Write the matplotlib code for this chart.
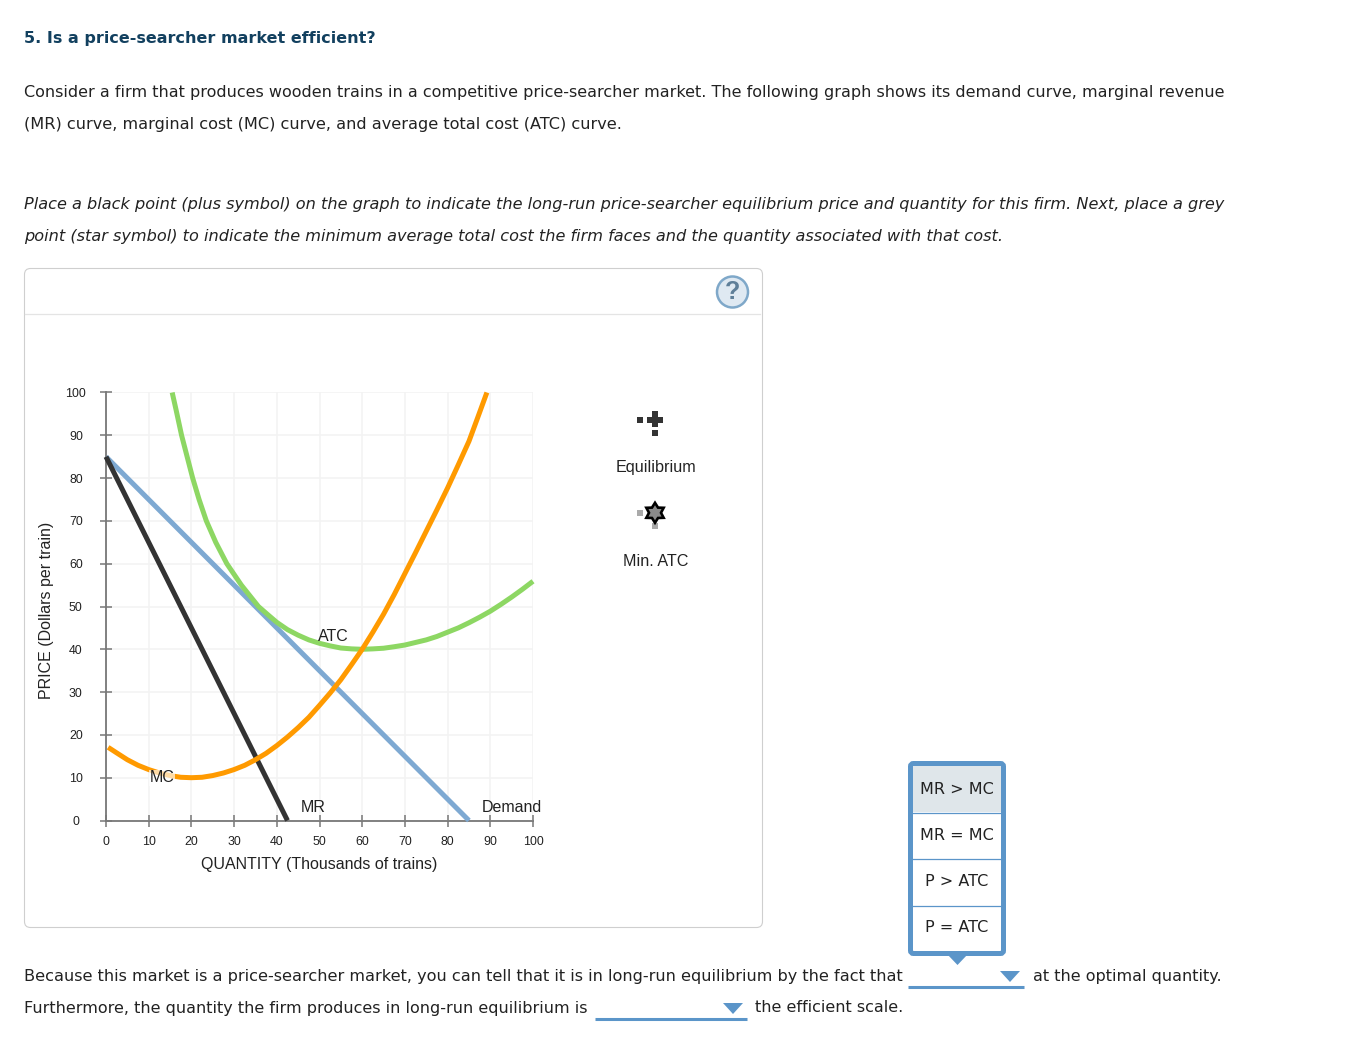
import numpy as np
import matplotlib
matplotlib.use("Agg")
import matplotlib.pyplot as plt
from matplotlib.patches import FancyBboxPatch, Circle, Polygon, Rectangle

W, H = 1370, 1052
QTY_TICKS = [0, 10, 20, 30, 40, 50, 60, 70, 80, 90, 100]
PRICE_TICKS = [0, 10, 20, 30, 40, 50, 60, 70, 80, 90, 100]

demand_q = [0, 85]
demand_p = [85, 0]
mr_q = [0, 42.5]
mr_p = [85, 0]
mc_q = [0.5, 2.5, 5, 7.5, 10, 12.5, 15, 17.5, 20, 22.5, 25, 27.5, 30, 32.5, 35, 37.5, 40, 42.5, 45, 47.5, 50,
        52.5, 55, 57.5, 60, 62.5, 65, 67.5, 70, 72.5, 75, 77.5, 80, 82.5, 85, 87, 89.2]
mc_p = [17.1, 15.8, 14.2, 12.9, 11.9, 11.1, 10.5, 10.1, 10, 10.1, 10.5, 11.1, 11.9, 12.9, 14.2, 15.7, 17.5, 19.5, 21.7, 24.1, 26.9,
        29.8, 32.9, 36.4, 40, 44, 48.2, 52.8, 57.7, 62.6, 67.6, 72.6, 77.7, 83.1, 88.6, 94, 100]
atc_q = [15.5, 16.4, 17.7, 19, 20.3, 21.8, 23.5, 25.7, 28.3, 31.7, 35.7, 38, 40, 42.5, 45, 47.5, 50, 52.5, 55, 57.5, 60,
         62.5, 65, 67.5, 70, 72.5, 75, 77.5, 80, 82.5, 85, 87.5, 90, 92.5, 95, 97.5, 100]
atc_p = [100, 96, 90, 85, 80, 75, 70, 65, 60, 55, 50, 48, 46.3, 44.6, 43.3, 42.2, 41.4, 40.8, 40.3, 40.1, 40,
         40.1, 40.25, 40.6, 41, 41.6, 42.2, 43, 44, 45, 46.2, 47.5, 48.9, 50.5, 52.2, 54, 55.9]

DEMAND_LABEL, MR_LABEL, MC_LABEL, ATC_LABEL = "Demand", "MR", "MC", "ATC"
TITLE = "5. Is a price-searcher market efficient?"
INTRO = ["Consider a firm that produces wooden trains in a competitive price-searcher market. The following graph shows its demand curve, marginal revenue",
         "(MR) curve, marginal cost (MC) curve, and average total cost (ATC) curve."]
TASK = ["Place a black point (plus symbol) on the graph to indicate the long-run price-searcher equilibrium price and quantity for this firm. Next, place a grey",
        "point (star symbol) to indicate the minimum average total cost the firm faces and the quantity associated with that cost."]
OPTIONS = ["MR > MC", "MR = MC", "P > ATC", "P = ATC"]

BODY_FONT = "DejaVu Sans"
CHART_FONT = "Liberation Sans"
INK = "#222222"
BLUE = "#5b95c9"

fig = plt.figure(figsize=(W / 100, H / 100), dpi=100, facecolor="white")

pg = fig.add_axes([0, 0, 1, 1])
pg.set_xlim(0, W)
pg.set_ylim(H, 0)
pg.axis("off")

BS = 11.54
pg.text(24, 38, TITLE, fontsize=11.55, fontweight="bold", color="#12405f", family=BODY_FONT, va="center")
pg.text(24, 92, INTRO[0], fontsize=BS, color=INK, family=BODY_FONT, va="center")
pg.text(24, 124, INTRO[1], fontsize=11.63, color=INK, family=BODY_FONT, va="center")
pg.text(24, 204, TASK[0], fontsize=11.62, color=INK, family=BODY_FONT, style="italic", va="center")
pg.text(24, 236, TASK[1], fontsize=11.59, color=INK, family=BODY_FONT, style="italic", va="center")

pg.add_patch(FancyBboxPatch((24.5, 268.5), 738, 659, boxstyle="round,pad=0,rounding_size=6",
                            fc="white", ec="#cfcfcf", lw=0.8))
pg.plot([25, 760], [313.5, 313.5], color="#e4e4e4", lw=0.9)
pg.add_patch(Circle((732.5, 292), 15.5, fc="#dfe9f2", ec="#7fa8c9", lw=1.8))
pg.text(732.5, 292, "?", fontsize=18, fontweight="bold", color="#5f7f99", family=CHART_FONT,
        ha="center", va="center")

DK = "#333333"
pg.add_patch(Rectangle((637, 417), 6, 5.5, fc=DK, ec="none"))
pg.add_patch(Rectangle((652, 430), 6, 5.5, fc=DK, ec="none"))
pg.add_patch(Polygon([(652, 411), (658, 411), (658, 416.5), (663.5, 416.5), (663.5, 422.5), (658, 422.5), (658, 427),
                      (652, 427), (652, 422.5), (647, 422.5), (647, 416.5), (652, 416.5)], fc=DK, ec="none"))
pg.text(656, 467.5, "Equilibrium", fontsize=11.6, family=CHART_FONT, color="#222222", ha="center", va="center")

GR = "#aaaaaa"
pg.add_patch(Rectangle((637, 510), 6, 5.5, fc=GR, ec="none"))
pg.add_patch(Rectangle((652, 523), 6, 6, fc=GR, ec="none"))
ang = np.deg2rad(np.arange(-90, 270, 30))
rad = np.where(np.arange(12) % 2 == 0, 10.0, 6.0)
pg.add_patch(Polygon(np.c_[655 + rad * np.cos(ang), 512.8 + rad * np.sin(ang)], fc="#8a8a8a", ec="black", lw=1.9))
pg.text(656, 561.5, "Min. ATC", fontsize=11.6, family=CHART_FONT, color="#222222", ha="center", va="center")

pg.add_patch(Polygon([(947, 954), (968, 954), (957.5, 965)], fc=BLUE, ec="none", zorder=3))
pg.add_patch(FancyBboxPatch((910.5, 763.5), 93, 190, boxstyle="round,pad=0,rounding_size=3",
                            fc="white", ec=BLUE, lw=3.6, zorder=3))
pg.add_patch(Rectangle((913, 766), 88, 46, fc="#dfe6ea", ec="none", zorder=4))
for yy in (812.5, 858.5, 905.5):
    pg.plot([913, 1001], [yy, yy], color=BLUE, lw=0.9, zorder=4)
for yy, opt in zip((789, 835, 882, 928), OPTIONS):
    pg.text(957, yy, opt, fontsize=BS, family=BODY_FONT, color=INK, ha="center", va="center", zorder=5)

pg.text(24, 976, "Because this market is a price-searcher market, you can tell that it is in long-run equilibrium by the fact that",
        fontsize=11.59, family=BODY_FONT, color=INK, va="center")
pg.text(1033, 976, "at the optimal quantity.", fontsize=BS, family=BODY_FONT, color=INK, va="center")
pg.text(24, 1008, "Furthermore, the quantity the firm produces in long-run equilibrium is",
        fontsize=11.57, family=BODY_FONT, color=INK, va="center")
pg.text(755, 1008, "the efficient scale.", fontsize=11.5, family=BODY_FONT, color=INK, va="center")
pg.plot([908, 1024], [986.5, 986.5], color=BLUE, lw=2.2, solid_capstyle="butt")
pg.plot([595, 747], [1018.5, 1018.5], color=BLUE, lw=2.2, solid_capstyle="butt")
pg.add_patch(Polygon([(1000, 971), (1020, 971), (1010, 982)], fc=BLUE, ec="none"))
pg.add_patch(Polygon([(723, 1003), (743, 1003), (733, 1014)], fc=BLUE, ec="none"))

x0, x1, ytop, ybot = 106, 533, 392.5, 820.5
ax = fig.add_axes([x0 / W, 1 - ybot / H, (x1 - x0) / W, (ybot - ytop) / H])
ax.patch.set_alpha(0)
ax.set_xlim(0, 100)
ax.set_ylim(0, 100)
ax.set_xticks(QTY_TICKS)
ax.set_yticks(PRICE_TICKS)
ax.grid(True, color="#f3f3f3", lw=1.1)
ax.set_axisbelow(True)
for s in ("top", "right"):
    ax.spines[s].set_visible(False)
for s in ("left", "bottom"):
    ax.spines[s].set_color("#777777")
    ax.spines[s].set_linewidth(1.3)
ax.tick_params(axis="both", direction="inout", length=8, width=1.1, color="#777777",
               labelsize=8.9, labelcolor="#222222")
ax.tick_params(axis="x", pad=7.5)
ax.tick_params(axis="y", pad=17.7)
for lab in ax.get_xticklabels() + ax.get_yticklabels():
    lab.set_family(CHART_FONT)
for lab in ax.get_yticklabels():
    lab.set_ha("center")
ax.set_xlabel("QUANTITY (Thousands of trains)", fontsize=11.5, family=CHART_FONT, color="#222222", va="center")
ax.set_ylabel("PRICE (Dollars per train)", fontsize=11.5, family=CHART_FONT, color="#222222", va="center")
ax.xaxis.set_label_coords((319.5 - x0) / (x1 - x0), -(864.5 - ybot) / (ybot - ytop))
ax.yaxis.set_label_coords((47 - x0) / (x1 - x0), (ybot - 610.5) / (ybot - ytop))

LW = 3.6
ax.plot(demand_q, demand_p, color="#7ea9d2", lw=LW, solid_capstyle="butt", clip_on=False, zorder=3)
ax.plot(mr_q, mr_p, color="#333333", lw=LW, solid_capstyle="butt", clip_on=False, zorder=4)
ax.plot(atc_q, atc_p, color="#8dd763", lw=LW, solid_capstyle="butt", solid_joinstyle="round", clip_on=False, zorder=5)
ax.plot(mc_q, mc_p, color="#ff9a00", lw=LW, solid_capstyle="butt", solid_joinstyle="round", clip_on=False, zorder=6)

lab_kw = dict(fontsize=11.5, family=CHART_FONT, color="#222222", ha="center", va="center", zorder=8)
box = dict(fc="white", ec="none", alpha=0.65, pad=0.5)
ax.text(13.2, 10.0, MC_LABEL, bbox=box, **lab_kw)
ax.text(53.2, 43.0, ATC_LABEL, **lab_kw)
ax.text(48.5, 3.1, MR_LABEL, **lab_kw)
ax.text(95.0, 3.1, DEMAND_LABEL, **lab_kw)

fig.savefig("out.png", dpi=100)
